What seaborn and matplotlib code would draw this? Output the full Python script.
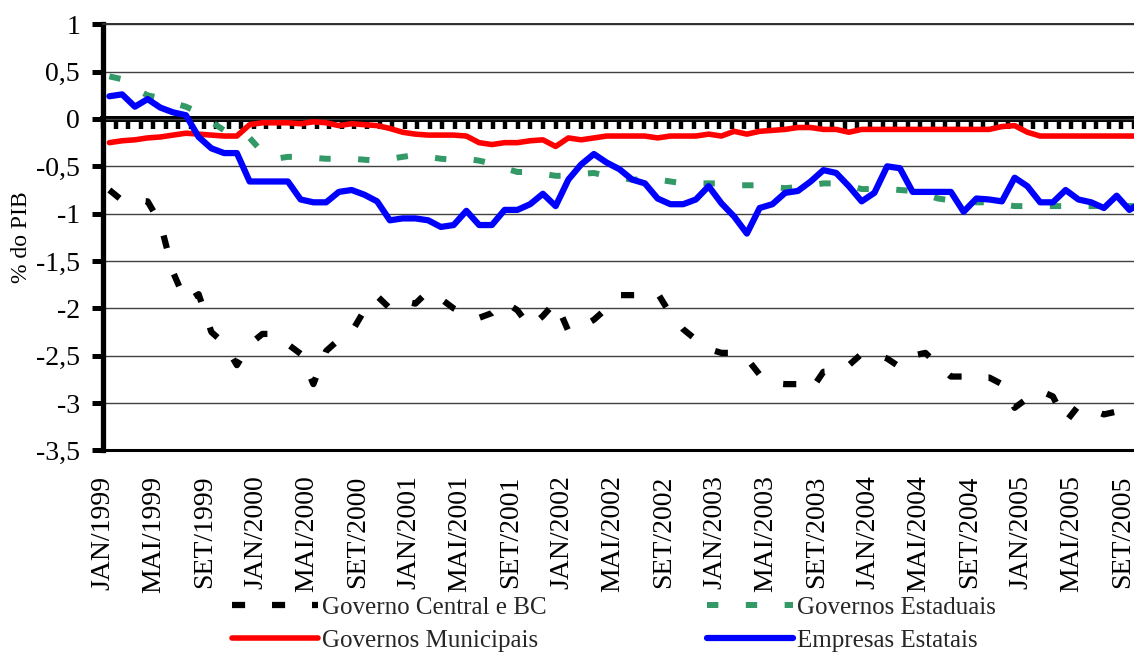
import numpy as np
import pandas as pd
import matplotlib
matplotlib.use("Agg")
import matplotlib.pyplot as plt
import matplotlib.transforms as mtransforms
import seaborn as sns

# Monthly series, JAN/1999 onwards (% of GDP)
meses = ["JAN", "FEV", "MAR", "ABR", "MAI", "JUN", "JUL", "AGO", "SET", "OUT", "NOV", "DEZ"]
anos = [1999, 2000, 2001, 2002, 2003, 2004, 2005]

governo_central = [
    -0.75, -0.86, -0.86, -0.87, -1.10, -1.62, -1.93, -1.85, -2.25, -2.37,
    -2.60, -2.38, -2.27, -2.27, -2.38, -2.48, -2.80, -2.45, -2.33, -2.25,
    -2.02, -1.87, -2.00, -1.92, -1.95, -1.82, -1.90, -2.00, -2.07, -2.10,
    -2.05, -1.93, -2.02, -2.20, -2.08, -1.93, -2.24, -2.20, -2.12, -2.00,
    -1.86, -1.86, -1.86, -1.84, -2.06, -2.22, -2.33, -2.43, -2.47, -2.47,
    -2.53, -2.70, -2.79, -2.80, -2.80, -2.87, -2.67, -2.66, -2.60, -2.48,
    -2.48, -2.53, -2.62, -2.50, -2.47, -2.60, -2.72, -2.72, -2.73, -2.73,
    -2.80, -3.05, -2.95, -2.87, -2.93, -3.20, -3.03, -3.07, -3.12, -3.09,
    -3.05, -3.02,
]

governos_estaduais = [
    0.45, 0.42, 0.32, 0.25, 0.22, 0.17, 0.13, 0.07, -0.03, -0.12,
    -0.16, -0.20, -0.35, -0.42, -0.40, -0.40, -0.41, -0.42, -0.42, -0.42,
    -0.43, -0.44, -0.42, -0.40, -0.38, -0.40, -0.42, -0.43, -0.42, -0.44,
    -0.47, -0.52, -0.56, -0.56, -0.58, -0.60, -0.60, -0.58, -0.57, -0.60,
    -0.62, -0.64, -0.64, -0.64, -0.66, -0.68, -0.68, -0.68, -0.68, -0.70,
    -0.70, -0.70, -0.72, -0.73, -0.72, -0.70, -0.68, -0.68, -0.70, -0.74,
    -0.74, -0.74, -0.75, -0.76, -0.80, -0.84, -0.86, -0.86, -0.88, -0.88,
    -0.90, -0.92, -0.92, -0.92, -0.92, -0.92, -0.92, -0.92, -0.92, -0.92,
    -0.92, -0.92,
]

governos_municipais = [
    -0.25, -0.23, -0.22, -0.20, -0.19, -0.17, -0.15, -0.16, -0.17, -0.18,
    -0.18, -0.06, -0.04, -0.04, -0.04, -0.05, -0.03, -0.04, -0.07, -0.05,
    -0.06, -0.07, -0.10, -0.14, -0.16, -0.17, -0.17, -0.17, -0.18, -0.25,
    -0.27, -0.25, -0.25, -0.23, -0.22, -0.29, -0.20, -0.22, -0.20, -0.18,
    -0.18, -0.18, -0.18, -0.20, -0.18, -0.18, -0.18, -0.16, -0.18, -0.13,
    -0.16, -0.13, -0.12, -0.11, -0.09, -0.09, -0.11, -0.11, -0.14, -0.11,
    -0.11, -0.11, -0.11, -0.11, -0.11, -0.11, -0.11, -0.11, -0.11, -0.11,
    -0.08, -0.07, -0.14, -0.18, -0.18, -0.18, -0.18, -0.18, -0.18, -0.18,
    -0.18, -0.18,
]

empresas_estatais = [
    0.24, 0.26, 0.13, 0.21, 0.12, 0.07, 0.04, -0.19, -0.31, -0.36,
    -0.36, -0.66, -0.66, -0.66, -0.66, -0.85, -0.88, -0.88, -0.77, -0.75,
    -0.80, -0.87, -1.07, -1.05, -1.05, -1.07, -1.14, -1.12, -0.97, -1.12,
    -1.12, -0.96, -0.96, -0.90, -0.79, -0.92, -0.64, -0.48, -0.37, -0.46,
    -0.53, -0.64, -0.68, -0.84, -0.90, -0.90, -0.85, -0.71, -0.89, -1.03,
    -1.21, -0.94, -0.90, -0.78, -0.76, -0.66, -0.54, -0.57, -0.71, -0.87,
    -0.78, -0.50, -0.52, -0.77, -0.77, -0.77, -0.77, -0.98, -0.84, -0.85,
    -0.87, -0.62, -0.71, -0.88, -0.88, -0.75, -0.85, -0.88, -0.94, -0.81,
    -0.96, -0.88,
]

series_nomes = ["Governo Central e BC", "Governos Estaduais",
                "Governos Municipais", "Empresas Estatais"]
series_cores = ["#000000", "#339966", "#FF0000", "#0000FF"]

ytick_vals = [1, 0.5, 0, -0.5, -1, -1.5, -2, -2.5, -3, -3.5]
ytick_labels = ["1", "0,5", "0", "-0,5", "-1", "-1,5", "-2", "-2,5", "-3", "-3,5"]

n = len(governo_central)
rotulos = [f"{meses[k % 12]}/{anos[0] + k // 12}" for k in range(n)]

df = pd.DataFrame({
    "idx": np.arange(n),
    series_nomes[0]: governo_central,
    series_nomes[1]: governos_estaduais,
    series_nomes[2]: governos_municipais,
    series_nomes[3]: empresas_estatais,
})

sns.set_theme(style="white")
plt.rcParams["font.family"] = ["Liberation Serif", "DejaVu Serif"]

W, H = 1134, 652
fig = plt.figure(figsize=(W / 100, H / 100), dpi=100)
fig.patch.set_facecolor("white")

left_px, right_px, top_px, bot_px = 103, 1134, 24.3, 450.4
ax = fig.add_axes([left_px / W, 1 - bot_px / H, (right_px - left_px) / W, (bot_px - top_px) / H])

x_right = (right_px - 109.4) / 12.75
ax.set_xlim(-0.5, x_right)
ax.set_ylim(-3.5, 1)

estilos = [
    dict(lw=4.5, linestyle=(0, (2.1, 4.3)), dash_capstyle="butt"),
    dict(lw=4.3, linestyle=(0, (1.9, 4.6)), dash_capstyle="butt"),
    dict(lw=4.0, linestyle="-", solid_capstyle="round", solid_joinstyle="round"),
    dict(lw=4.5, linestyle="-", solid_capstyle="round", solid_joinstyle="round"),
]
for nome, cor, est in zip(series_nomes, series_cores, estilos):
    sns.lineplot(data=df, x="idx", y=nome, color=cor, ax=ax, label=nome,
                 clip_on=True, **est)

handles, labels = ax.get_legend_handles_labels()
if ax.get_legend() is not None:
    ax.get_legend().remove()

# horizontal grid
ax.set_yticks(ytick_vals)
ax.set_yticklabels(ytick_labels)
ax.yaxis.grid(True, color="#404040", lw=1.0)
ax.xaxis.grid(False)

ax.spines["right"].set_visible(False)
ax.spines["top"].set_color("#303030")
ax.spines["top"].set_linewidth(1.4)
ax.spines["left"].set_color("black")
ax.spines["left"].set_linewidth(3.8)
ax.spines["bottom"].set_color("black")
ax.spines["bottom"].set_linewidth(2.2)

ax.tick_params(axis="y", direction="out", length=8, width=3.6, pad=8.5,
               labelsize=20, colors="black", left=True)
tick_pos = list(range(0, n, 4))
ax.set_xticks(tick_pos)
ax.set_xticklabels([rotulos[k] for k in tick_pos], rotation=90)
ax.tick_params(axis="x", length=0, pad=18, labelsize=20, colors="black")
shift = mtransforms.ScaledTranslation(-0.065, 0, fig.dpi_scale_trans)
for lab in ax.get_xticklabels():
    lab.set_transform(lab.get_transform() + shift)
ax.set_xlabel("")
ax.set_ylabel("% do PIB", fontsize=17, color="black", labelpad=3)

# category axis crossing at zero, monthly tick marks
ax2 = ax.twiny()
ax2.set_xlim(ax.get_xlim())
ax2.set_xticks(np.arange(-0.5, n, 1))
ax2.xaxis.set_ticks_position("bottom")
ax2.spines["bottom"].set_position(("data", 0))
ax2.spines["bottom"].set_linewidth(4.3)
ax2.spines["bottom"].set_color("black")
for s in ["top", "left", "right"]:
    ax2.spines[s].set_visible(False)
ax2.tick_params(axis="x", direction="out", length=7.5, width=3.2, color="black",
                labelbottom=False, labeltop=False, top=False, bottom=True)
ax.set_zorder(ax2.get_zorder() + 1)
ax.patch.set_visible(False)

ordem = [0, 2, 1, 3]
fig.legend([handles[k] for k in ordem], [labels[k] for k in ordem],
           ncol=2, loc="upper left", bbox_to_anchor=(232 / W, 1 - 596 / H),
           frameon=False, fontsize=18, handlelength=3.44, handletextpad=0.16,
           columnspacing=6.4, labelspacing=0.42, borderpad=0, borderaxespad=0)

fig.savefig("out.png", dpi=100, facecolor="white")
